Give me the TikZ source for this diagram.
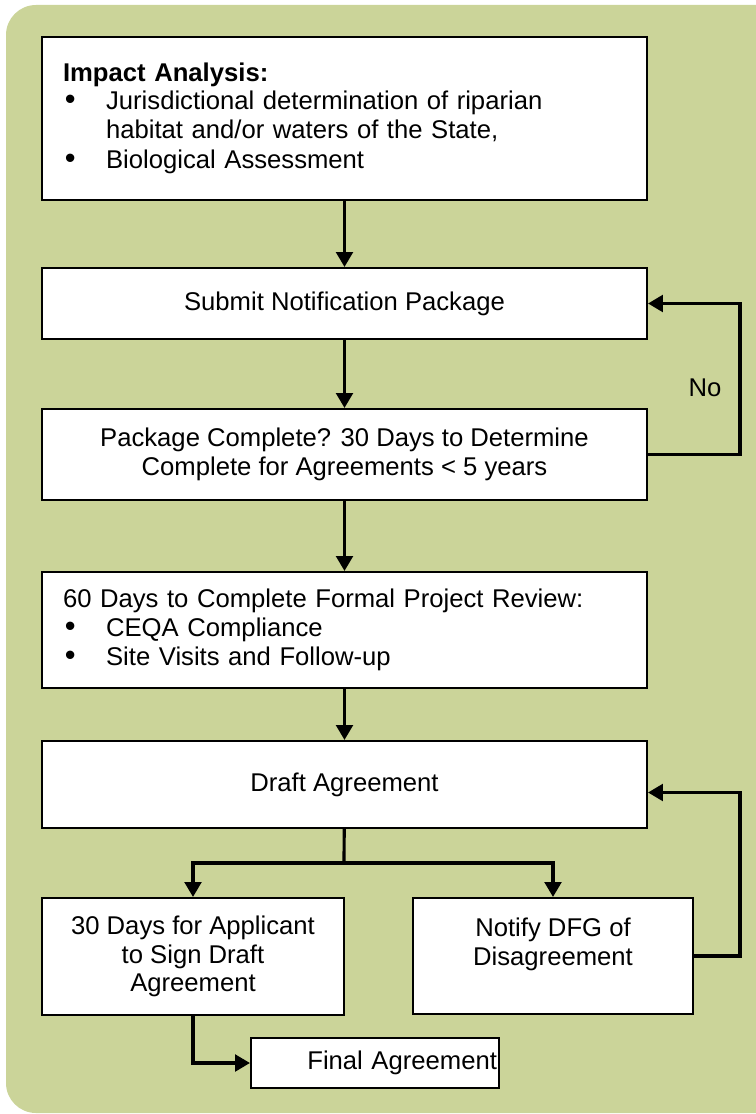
\documentclass[tikz,border=0pt]{standalone}
\usepackage{fontspec}
\setmainfont{Liberation Sans}
\usepackage{xcolor}
\usetikzlibrary{arrows.meta,shapes}
\definecolor{leaf}{RGB}{203,212,153}
\newcommand{\bul}{\makebox[24.5pt][l]{\hspace{1pt}\scalebox{1.2}{\textbullet}}}

\begin{document}
\begin{tikzpicture}[x=0.02cm, y=-0.02cm, main node/.style={draw, fill=white, line width=1.2pt, minimum width=12.1cm, font=\fontsize{14.6}{16.3}\selectfont, align=center}, left node/.style={main node, text width=11.26cm, inner xsep=0.42cm, align=left}, arr/.style={-{Triangle[length=8.5pt,width=9.5pt]}, line width=1.8pt}, line/.style={line width=1.8pt}]
\useasboundingbox (0,0) rectangle (755,1114);
\fill[leaf, rounded corners=0.6cm] (6,5) rectangle (800,1113);
\node[left node, minimum height=3.26cm] (1) at (344.5,118.5) {\textbf{Impact Analysis:}\\
\bul Jurisdictional determination of riparian\\
\hspace*{24.5pt}habitat and/or waters of the State,\\[1pt]
\bul Biological Assessment\\[7pt]};
\node[main node, minimum height=1.42cm] (2) at (344.5,303.5) {Submit Notification Package};
\node[main node, minimum height=1.82cm] (3) at (344.5,454.5) {Package Complete? 30 Days to Determine\\Complete for Agreements < 5 years};
\node[left node, minimum height=2.32cm] (4) at (344.5,630) {60 Days to Complete Formal Project Review:\\
\bul CEQA Compliance\\
\bul Site Visits and Follow-up};
\node[main node, minimum height=1.74cm] (5) at (344.5,784.5) {Draft Agreement};
\node[main node, minimum width=6.04cm, minimum height=2.34cm] (6) at (193,956.5) {30 Days for Applicant\\to Sign Draft\\Agreement};
\node[main node, minimum width=5.6cm, minimum height=2.32cm] (7) at (553,956) {Notify DFG of\\Disagreement\\\mbox{}};
\node[main node, minimum width=4.96cm, text width=4.88cm, inner xsep=0.04cm, minimum height=1cm, align=right] (8) at (375,1063) {Final Agreement};
\node[font=\fontsize{14.6}{16.3}\selectfont] (no) at (705,388) {No};
\coordinate (s) at (344,863);
\draw[arr] (1) -- (2);
\draw[arr] (2) -- (3);
\draw[arr] (3) -- (4);
\draw[arr] (4) -- (5);
\draw[arr] (3.east) -- ++(92,0) |- (2.east);
\draw[arr] (7.east) -- ++(46,0) |- ([yshift=-0.16cm]5.east);
\draw[line] (5) -- (s);
\draw[arr] (s) -| (6.north);
\draw[arr] (s) -| (7.north);
\draw[arr] (6.south) |- (8.west);
\end{tikzpicture}
\end{document}
